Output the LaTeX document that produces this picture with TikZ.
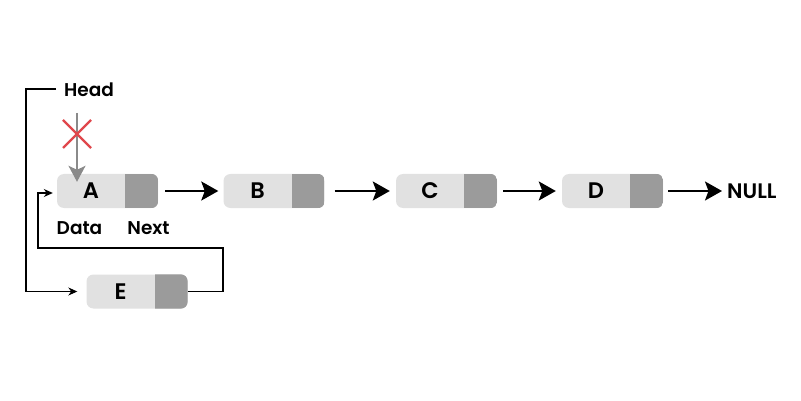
\documentclass[tikz,border=0pt]{standalone}
\usepackage{fontspec}
\setmainfont{Poppins}[BoldFont={Poppins SemiBold}]
\usetikzlibrary{arrows.meta}
\definecolor{lgray}{HTML}{E1E1E1}
\definecolor{dgray}{HTML}{9B9B9B}
\definecolor{agray}{HTML}{8A8A8A}
\definecolor{xred}{HTML}{E0474C}
\tikzset{
  llbox/.style={rectangle, rounded corners=7pt, fill=lgray, minimum width=101pt, minimum height=34pt, inner sep=0pt},
  lbl/.style={font=\bfseries\fontsize{22.5}{24}\selectfont, inner sep=0pt},
  sublbl/.style={font=\bfseries\fontsize{18.5}{20}\selectfont, inner sep=0pt},
  bigarr/.style={line width=2.2pt, -{Stealth[length=17pt,width=19pt,inset=3.5pt]}},
  smallarr/.style={line width=1.1pt, -{Stealth[length=9pt,width=8pt]}}
}
\newcommand\llnode[4]{%
  \node[llbox] (#1) at (#2,#3) {};
  \begin{scope}
    \clip[rounded corners=7pt] (#1.south west) rectangle (#1.north east);
    \fill[dgray] ([xshift=-33pt]#1.south east) rectangle (#1.north east);
  \end{scope}
  \node[lbl] (#1t) at ([xshift=-16.5pt]#1.center) {#4};
}
\begin{document}
\begin{tikzpicture}[x=1pt,y=-1pt]
\fill[white] (0,0) rectangle (801,401);
\useasboundingbox (0,0) rectangle (801,401);
\llnode{A}{107.5}{191}{A}
\llnode{B}{274}{191}{B}
\llnode{C}{446.5}{191}{C}
\llnode{D}{612.5}{191}{D}
\llnode{E}{137}{291.5}{E}
\node[sublbl] (data) at (79.5,228) {Data};
\node[sublbl] (next) at (148.5,228) {Next};
\node[sublbl, anchor=west] (head) at (64,90) {Head};
\node[sublbl, font=\bfseries\fontsize{21}{23}\selectfont, anchor=west] (null) at (727,191) {NULL};
\draw[bigarr] ([xshift=7pt]A.east) -- ([xshift=-5pt]B.west);
\draw[bigarr] ([xshift=10pt]B.east) -- ([xshift=-6pt]C.west);
\draw[bigarr] ([xshift=6pt]C.east) -- ([xshift=-6pt]D.west);
\draw[bigarr] ([xshift=5pt]D.east) -- ([xshift=-5pt]null.west);
% head pointer
\coordinate (h1) at (56,89);
\coordinate (h2) at (26,89);
\draw[smallarr] (h1) -- (h2) |- ([xshift=-9pt]E.west);
% E next to A
\coordinate (e1) at (223,248);
\coordinate (e2) at (38,248);
\draw[smallarr] (E.east) -| (e1) -- (e2) |- ([xshift=-4pt,yshift=-2pt]A.west);
% broken head arrow
\coordinate (g1) at (77,113);
\draw[agray, line width=1.5pt, -{Stealth[length=16pt,width=17pt,inset=4pt]}] (g1) -- ([xshift=-30.5pt,yshift=-8pt]A.north);
\coordinate (xc) at (77,134);
\draw[xred, line width=2.2pt] ([shift={(-14,-14)}]xc) -- ([shift={(14,14)}]xc);
\draw[xred, line width=2.2pt] ([shift={(-14,14)}]xc) -- ([shift={(14,-14)}]xc);
\end{tikzpicture}
\end{document}
